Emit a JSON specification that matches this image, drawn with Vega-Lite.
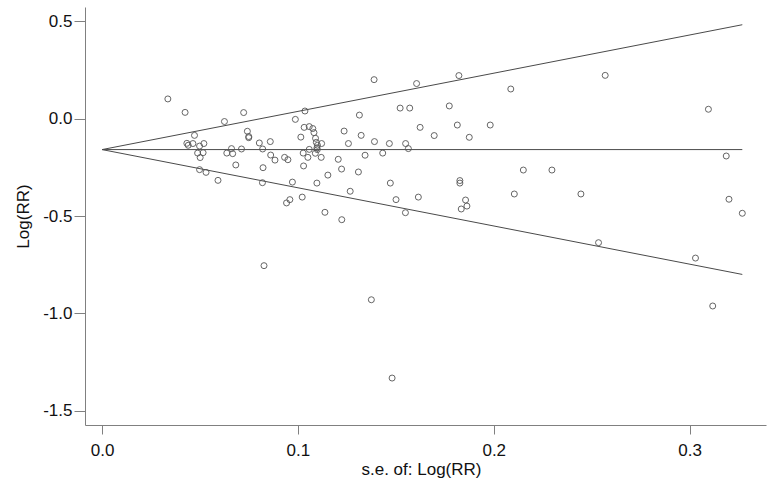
{
  "$schema": "https://vega.github.io/schema/vega-lite/v6.json",
  "width": 681,
  "height": 418,
  "autosize": {"type": "none"},
  "padding": {"left": 85, "top": 7, "right": 8, "bottom": 59},
  "background": "white",
  "config": {
    "view": {"stroke": null},
    "axis": {
      "grid": false,
      "domainColor": "#808080",
      "tickColor": "#808080",
      "labelFont": "Liberation Sans",
      "titleFont": "Liberation Sans",
      "labelFontSize": 17,
      "titleFontSize": 17,
      "titleFontWeight": "normal",
      "labelColor": "#111",
      "titleColor": "#111"
    }
  },
  "datasets": {
    "studies": [
      {"se": 0.0336, "logrr": 0.101},
      {"se": 0.0424, "logrr": 0.032},
      {"se": 0.0472, "logrr": -0.086},
      {"se": 0.0433, "logrr": -0.127},
      {"se": 0.0440, "logrr": -0.137},
      {"se": 0.0464, "logrr": -0.128},
      {"se": 0.0520, "logrr": -0.128},
      {"se": 0.0498, "logrr": -0.141},
      {"se": 0.0488, "logrr": -0.177},
      {"se": 0.0516, "logrr": -0.175},
      {"se": 0.0501, "logrr": -0.200},
      {"se": 0.0498, "logrr": -0.262},
      {"se": 0.0531, "logrr": -0.276},
      {"se": 0.0592, "logrr": -0.317},
      {"se": 0.0723, "logrr": 0.031},
      {"se": 0.0625, "logrr": -0.015},
      {"se": 0.1036, "logrr": 0.039},
      {"se": 0.0987, "logrr": -0.004},
      {"se": 0.1032, "logrr": -0.045},
      {"se": 0.1058, "logrr": -0.041},
      {"se": 0.1076, "logrr": -0.051},
      {"se": 0.0742, "logrr": -0.065},
      {"se": 0.0749, "logrr": -0.092},
      {"se": 0.0749, "logrr": -0.098},
      {"se": 0.1015, "logrr": -0.095},
      {"se": 0.1082, "logrr": -0.072},
      {"se": 0.1090, "logrr": -0.101},
      {"se": 0.1094, "logrr": -0.122},
      {"se": 0.1100, "logrr": -0.137},
      {"se": 0.1097, "logrr": -0.151},
      {"se": 0.1121, "logrr": -0.128},
      {"se": 0.0803, "logrr": -0.125},
      {"se": 0.0859, "logrr": -0.118},
      {"se": 0.0820, "logrr": -0.156},
      {"se": 0.0661, "logrr": -0.154},
      {"se": 0.0712, "logrr": -0.156},
      {"se": 0.1058, "logrr": -0.158},
      {"se": 0.1099, "logrr": -0.159},
      {"se": 0.0637, "logrr": -0.177},
      {"se": 0.0667, "logrr": -0.180},
      {"se": 0.1027, "logrr": -0.177},
      {"se": 0.1089, "logrr": -0.178},
      {"se": 0.0861, "logrr": -0.187},
      {"se": 0.0883, "logrr": -0.213},
      {"se": 0.0932, "logrr": -0.199},
      {"se": 0.0949, "logrr": -0.211},
      {"se": 0.1051, "logrr": -0.199},
      {"se": 0.1119, "logrr": -0.199},
      {"se": 0.0683, "logrr": -0.238},
      {"se": 0.0822, "logrr": -0.252},
      {"se": 0.1029, "logrr": -0.243},
      {"se": 0.0819, "logrr": -0.329},
      {"se": 0.0972, "logrr": -0.326},
      {"se": 0.1097, "logrr": -0.331},
      {"se": 0.1153, "logrr": -0.290},
      {"se": 0.0959, "logrr": -0.416},
      {"se": 0.0942, "logrr": -0.433},
      {"se": 0.1022, "logrr": -0.403},
      {"se": 0.1138, "logrr": -0.481},
      {"se": 0.0827, "logrr": -0.755},
      {"se": 0.1389, "logrr": 0.200},
      {"se": 0.1606, "logrr": 0.180},
      {"se": 0.1522, "logrr": 0.054},
      {"se": 0.1571, "logrr": 0.054},
      {"se": 0.1773, "logrr": 0.065},
      {"se": 0.1314, "logrr": 0.018},
      {"se": 0.1236, "logrr": -0.064},
      {"se": 0.1624, "logrr": -0.045},
      {"se": 0.1696, "logrr": -0.087},
      {"se": 0.1323, "logrr": -0.086},
      {"se": 0.1258, "logrr": -0.128},
      {"se": 0.1391, "logrr": -0.118},
      {"se": 0.1467, "logrr": -0.128},
      {"se": 0.1550, "logrr": -0.128},
      {"se": 0.1564, "logrr": -0.154},
      {"se": 0.1206, "logrr": -0.209},
      {"se": 0.1343, "logrr": -0.188},
      {"se": 0.1433, "logrr": -0.177},
      {"se": 0.1223, "logrr": -0.259},
      {"se": 0.1309, "logrr": -0.274},
      {"se": 0.1472, "logrr": -0.331},
      {"se": 0.1267, "logrr": -0.373},
      {"se": 0.1501, "logrr": -0.416},
      {"se": 0.1615, "logrr": -0.403},
      {"se": 0.1549, "logrr": -0.483},
      {"se": 0.1224, "logrr": -0.519},
      {"se": 0.1822, "logrr": 0.221},
      {"se": 0.2569, "logrr": 0.222},
      {"se": 0.2087, "logrr": 0.152},
      {"se": 0.1814, "logrr": -0.033},
      {"se": 0.1982, "logrr": -0.033},
      {"se": 0.1875, "logrr": -0.096},
      {"se": 0.2151, "logrr": -0.264},
      {"se": 0.2297, "logrr": -0.264},
      {"se": 0.1827, "logrr": -0.318},
      {"se": 0.1827, "logrr": -0.331},
      {"se": 0.2105, "logrr": -0.387},
      {"se": 0.2445, "logrr": -0.387},
      {"se": 0.1856, "logrr": -0.418},
      {"se": 0.1863, "logrr": -0.449},
      {"se": 0.1834, "logrr": -0.464},
      {"se": 0.2535, "logrr": -0.637},
      {"se": 0.3096, "logrr": 0.048},
      {"se": 0.3187, "logrr": -0.192},
      {"se": 0.3201, "logrr": -0.414},
      {"se": 0.3269, "logrr": -0.486},
      {"se": 0.3030, "logrr": -0.716},
      {"se": 0.3118, "logrr": -0.962},
      {"se": 0.1375, "logrr": -0.930},
      {"se": 0.1481, "logrr": -1.332}
    ],
    "funnel": [
      {"se": 0, "logrr": -0.159, "line": "upper"},
      {"se": 0.3269, "logrr": 0.482, "line": "upper"},
      {"se": 0, "logrr": -0.159, "line": "centre"},
      {"se": 0.3269, "logrr": -0.159, "line": "centre"},
      {"se": 0, "logrr": -0.159, "line": "lower"},
      {"se": 0.3269, "logrr": -0.800, "line": "lower"}
    ]
  },
  "layer": [
    {
      "data": {"name": "funnel"},
      "mark": {"type": "line", "color": "#4a4a4a", "strokeWidth": 1},
      "encoding": {
        "x": {"field": "se", "type": "quantitative",
              "scale": {"domain": [-0.0087, 0.339], "nice": false, "zero": false},
              "axis": {"values": [0, 0.1, 0.2, 0.3], "title": "s.e. of: Log(RR)", "tickSize": 9, "labelPadding": 8, "titlePadding": 3, "titleX": 336,
                       "labelExpr": "replace(format(datum.value, '.1f'), '\u2212', '-')"}},
        "y": {"field": "logrr", "type": "quantitative",
              "scale": {"domain": [-1.573, 0.573], "nice": false, "zero": false},
              "axis": {"values": [0.5, 0, -0.5, -1, -1.5], "title": "Log(RR)", "tickSize": 11, "labelPadding": 2, "titlePadding": 10,
                       "labelExpr": "replace(format(datum.value, '.1f'), '\u2212', '-')"}},
        "detail": {"field": "line"}
      }
    },
    {
      "data": {"name": "studies"},
      "mark": {"type": "point", "shape": "circle", "filled": false, "size": 36, "stroke": "#555555", "strokeWidth": 0.9, "opacity": 1},
      "encoding": {
        "x": {"field": "se", "type": "quantitative"},
        "y": {"field": "logrr", "type": "quantitative"}
      }
    }
  ]
}
